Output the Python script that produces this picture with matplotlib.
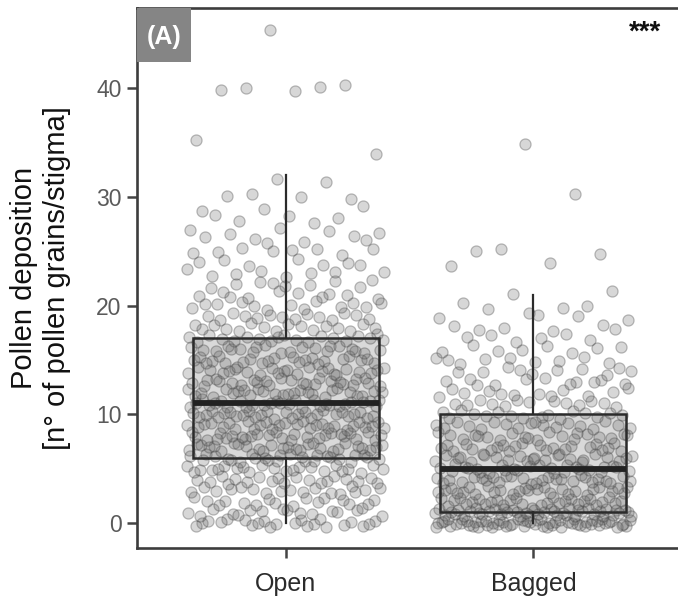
import numpy as np
import matplotlib
matplotlib.use("Agg")
import matplotlib.pyplot as plt
from matplotlib.patches import Rectangle

plt.rcParams['font.family'] = ['Liberation Sans', 'DejaVu Sans']

# pollen grains per stigma (value) and how many stigmas had that count
groups = ['Open', 'Bagged']

open_values = [0, 1, 2, 3, 4, 5, 6, 7, 8, 9, 10, 11, 12, 13, 14, 15, 16, 17, 18, 19,
               20, 21, 22, 23, 24, 25, 26, 27, 28, 29, 30, 31, 32, 34, 35, 40, 45]
open_counts = [22, 16, 16, 17, 19, 22, 26, 27, 27, 28, 28, 28, 26, 25, 24, 22, 20, 19, 16, 14,
               13, 10, 9, 8, 7, 8, 6, 5, 5, 3, 4, 1, 1, 1, 1, 5, 1]

bagged_values = [0, 1, 2, 3, 4, 5, 6, 7, 8, 9, 10, 11, 12, 13, 14, 15, 16, 17, 18, 19,
                 20, 21, 24, 25, 30, 35]
bagged_counts = [60, 45, 28, 27, 27, 26, 24, 22, 20, 18, 16, 13, 12, 11, 10, 9, 8, 6, 6, 5,
                 4, 2, 2, 3, 1, 1]

y_ticks = [0, 10, 20, 30, 40]


def expand(values, counts):
    return np.repeat(np.array(values, dtype=float), counts)


def halton(idx, base):
    out = np.zeros(len(idx))
    f = 1.0
    i = idx.copy()
    while np.any(i > 0):
        f /= base
        out += f * (i % base)
        i //= base
    return out


def jitter_offsets(n, width, start):
    # low-discrepancy (x, y) offsets in [-width, width]
    idx = np.arange(start, start + n)
    dx = (halton(idx, 2) - 0.5) * 2 * width
    dy = (halton(idx, 3) - 0.5) * 2 * width
    return dx, dy


data = [expand(open_values, open_counts), expand(bagged_values, bagged_counts)]

fig = plt.figure(figsize=(6.78, 6.08), dpi=100)
ax = fig.add_axes([137 / 678, 60 / 608, 545 / 678, 540 / 608])

# box fill under the points
ax.boxplot(data, positions=[1, 2], widths=0.75, patch_artist=True,
           showfliers=False, showcaps=False, whis=1.5,
           boxprops=dict(facecolor='#d9d9d9', edgecolor='none'),
           medianprops=dict(color='none'), whiskerprops=dict(color='none'),
           zorder=1)

for i, vals in enumerate(data):
    dx, dy = jitter_offsets(len(vals), 0.4, 37 + 500 * i)
    ax.scatter((i + 1) + dx, vals + dy, s=64, facecolors=(0.4, 0.4, 0.4, 0.26),
               edgecolors=(0.25, 0.25, 0.25, 0.34), linewidths=0.9, zorder=2)

# box outlines, whiskers and medians on top
ax.boxplot(data, positions=[1, 2], widths=0.75, patch_artist=True,
           showfliers=False, showcaps=False, whis=1.5,
           boxprops=dict(facecolor='none', edgecolor='#2b2b2b', linewidth=1.8),
           medianprops=dict(color='#222222', linewidth=4.2, solid_capstyle='butt'),
           whiskerprops=dict(color='#2b2b2b', linewidth=1.6),
           zorder=3)

ax.set_xlim(0.4, 2.6)
ax.set_ylim(-2.3, 47.4)
ax.set_xticks([1, 2])
ax.set_xticklabels(groups, fontsize=18, color='#2b2b2b')
ax.set_yticks(y_ticks)
ax.set_yticklabels([str(t) for t in y_ticks], fontsize=16.5, color='#5a5a5a')
ax.tick_params(axis='both', length=7, width=1.8, color='#444444')
ax.tick_params(axis='x', pad=10)
ax.tick_params(axis='y', pad=4)

for side in ['left', 'bottom', 'top']:
    ax.spines[side].set_linewidth(1.9)
    ax.spines[side].set_color('#3d3d3d')
ax.spines['right'].set_visible(False)

ax.set_ylabel('Pollen deposition\n[n° of pollen grains/stigma]', fontsize=21,
              color='#111111', labelpad=18, linespacing=1.25)

# panel tag and significance marker
ax.add_patch(Rectangle((0, 1), 54 / 545, -54 / 540, transform=ax.transAxes,
                       facecolor='#858585', edgecolor='none', zorder=5,
                       clip_on=False))
ax.text(27 / 545, 1 - 29 / 540, '(A)', transform=ax.transAxes, ha='center',
        va='center', fontsize=18, fontweight='bold', color='white', zorder=6)
ax.text(0.932, 0.955, '***', transform=ax.transAxes, ha='center', va='center',
        fontsize=20, fontweight='bold', color='#111111')

fig.savefig('out.png', dpi=100)
